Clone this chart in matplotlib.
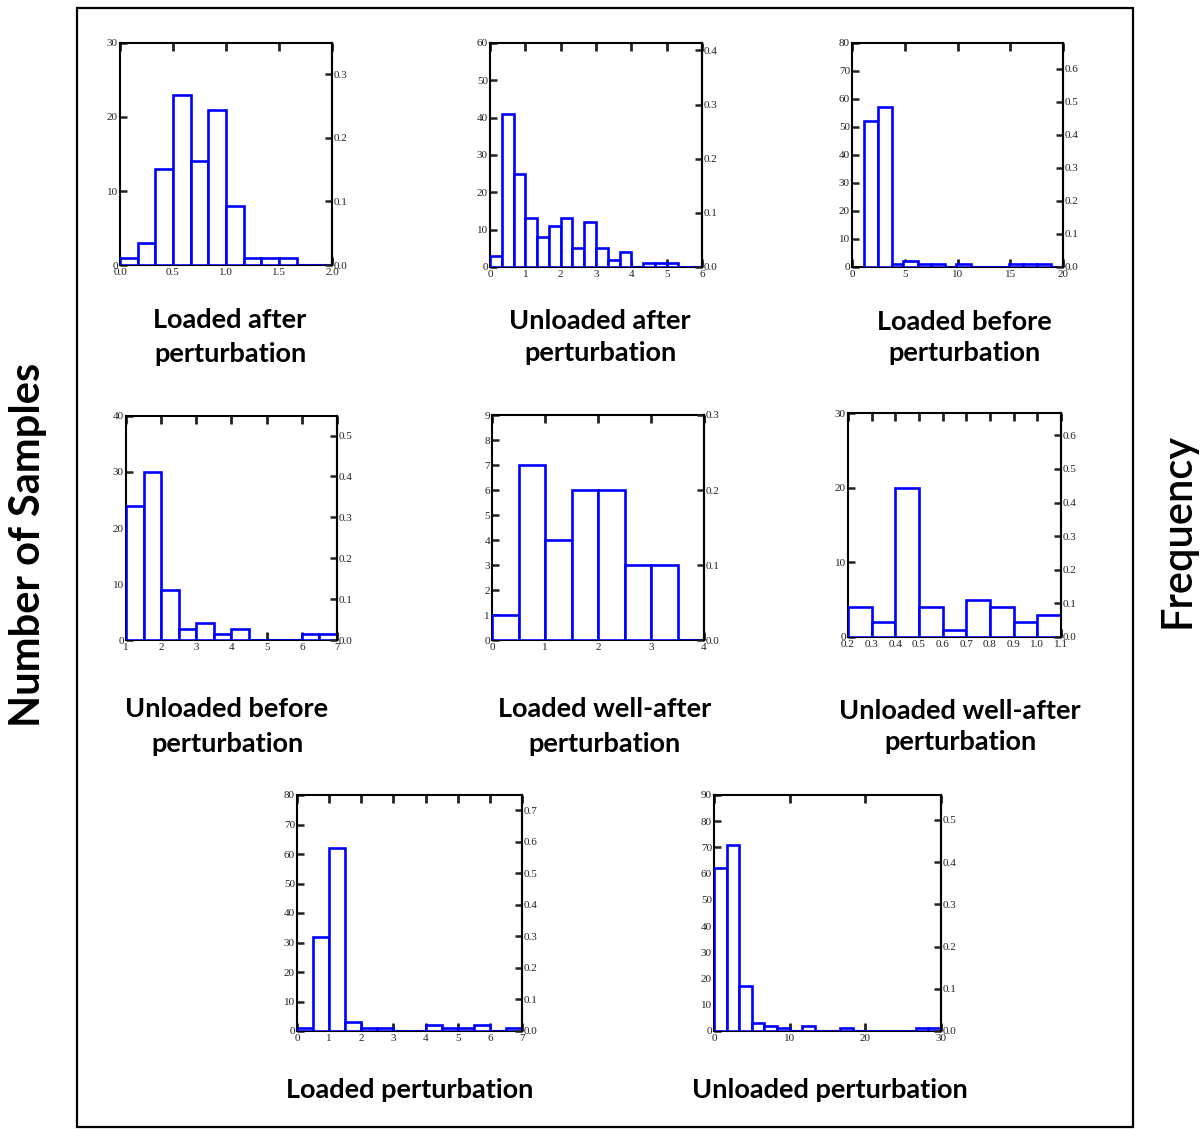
import matplotlib
matplotlib.use("Agg")
import matplotlib.pyplot as plt
import numpy as np
from matplotlib.patches import Rectangle
from matplotlib.ticker import FormatStrFormatter, FixedLocator

W, H = 1204, 1129
DPI = 100

# ---- histogram data: bin edges and sample counts per panel ----
edges_loaded_after = [0, 1/6, 2/6, 3/6, 4/6, 5/6, 1.0, 7/6, 8/6, 9/6, 10/6, 11/6, 2.0]
counts_loaded_after = [1, 3, 13, 23, 14, 21, 8, 1, 1, 1, 0, 0]

edges_unloaded_after = [k / 3 for k in range(19)]
counts_unloaded_after = [3, 41, 25, 13, 8, 11, 13, 5, 12, 5, 2, 4, 0, 1, 1, 1, 0, 0]

edges_loaded_before = [1.15, 2.45, 3.8, 4.85, 6.25, 7.5, 8.8, 9.9, 11.3, 14.9, 16.2, 17.5, 18.9, 20.0]
counts_loaded_before = [52, 57, 1, 2, 1, 1, 0, 1, 0, 1, 1, 1, 0]

edges_unloaded_before = [1 + 0.5 * k for k in range(13)]
counts_unloaded_before = [24, 30, 9, 2, 3, 1, 2, 0, 0, 0, 1, 1]

edges_loaded_well = [0.5 * k for k in range(9)]
counts_loaded_well = [1, 7, 4, 6, 6, 3, 3, 0]

edges_unloaded_well = [0.2 + 0.1 * k for k in range(10)]
counts_unloaded_well = [4, 2, 20, 4, 1, 5, 4, 2, 3]

edges_loaded_pert = [0.5 * k for k in range(15)]
counts_loaded_pert = [1, 32, 62, 3, 1, 1, 0, 0, 2, 1, 1, 2, 0, 1]

edges_unloaded_pert = [30 / 18 * k for k in range(19)]
counts_unloaded_pert = [62, 71, 17, 3, 2, 1, 0, 2, 0, 0, 1, 0, 0, 0, 0, 0, 1, 1]

# ---- axis settings ----
titles = [
    ["Loaded after", "perturbation"],
    ["Unloaded after", "perturbation"],
    ["Loaded before", "perturbation"],
    ["Unloaded before", "perturbation"],
    ["Loaded well-after", "perturbation"],
    ["Unloaded well-after", "perturbation"],
    ["Loaded perturbation"],
    ["Unloaded perturbation"],
]
x_ticks = [
    [0, 0.5, 1.0, 1.5, 2.0],
    [0, 1, 2, 3, 4, 5, 6],
    [0, 5, 10, 15, 20],
    [1, 2, 3, 4, 5, 6, 7],
    [0, 1, 2, 3, 4],
    [0.2, 0.3, 0.4, 0.5, 0.6, 0.7, 0.8, 0.9, 1.0, 1.1],
    [0, 1, 2, 3, 4, 5, 6, 7],
    [0, 10, 20, 30],
]
x_fmt = ["%.1f", "%d", "%d", "%d", "%d", "%.1f", "%d", "%d"]
y_max = [30, 60, 80, 40, 9, 30, 80, 90]
y_step = [10, 10, 10, 10, 1, 10, 10, 10]
freq_max = [0.3, 0.4, 0.6, 0.5, 0.3, 0.6, 0.7, 0.5]

edges_all = [edges_loaded_after, edges_unloaded_after, edges_loaded_before,
             edges_unloaded_before, edges_loaded_well, edges_unloaded_well,
             edges_loaded_pert, edges_unloaded_pert]
counts_all = [counts_loaded_after, counts_unloaded_after, counts_loaded_before,
              counts_unloaded_before, counts_loaded_well, counts_unloaded_well,
              counts_loaded_pert, counts_unloaded_pert]

# panel boxes in pixels: left, top, right, bottom
boxes = [
    (120, 43, 332, 265),
    (490, 43, 702, 267),
    (852, 43, 1063, 267),
    (126, 416, 337, 640),
    (492, 415, 704, 640),
    (848, 413, 1061, 637),
    (297, 795, 522, 1031),
    (714, 795, 941, 1031),
]
# title placement: centre x, baselines
title_pos = [
    (230, [328, 362]),
    (600, [329, 361]),
    (964, [330, 361]),
    (227, [717, 752]),
    (605, [717, 752]),
    (960, [719, 750]),
    (410, [1098]),
    (830, [1098]),
]

BLUE = "#0000ff"
TICK_COLOR = "#222222"
TICK_SIZE = 8
TITLE_FONT = dict(family="Lato", weight="bold", size=19.5)

fig = plt.figure(figsize=(W / DPI, H / DPI), dpi=DPI)
fig.patch.set_facecolor("white")


def fx(px):
    return px / W


def fy(py):
    return 1 - py / H


for i in range(8):
    l, t, r, b = boxes[i]
    ax = fig.add_axes([fx(l), fy(b), fx(r) - fx(l), fy(t) - fy(b)])
    e = np.array(edges_all[i], dtype=float)
    c = np.array(counts_all[i], dtype=float)
    n_total = c.sum()
    ax.bar(e[:-1], c, width=np.diff(e), align="edge", facecolor="white",
           edgecolor=BLUE, linewidth=1.9, zorder=3)
    ax.set_xlim(x_ticks[i][0], x_ticks[i][-1])
    ax.set_ylim(0, y_max[i])
    ax.xaxis.set_major_locator(FixedLocator(x_ticks[i]))
    ax.xaxis.set_major_formatter(FormatStrFormatter(x_fmt[i]))
    ax.yaxis.set_major_locator(FixedLocator(np.arange(0, y_max[i] + 0.01, y_step[i])))
    for sp in ax.spines.values():
        sp.set_linewidth(1.5)
        sp.set_color("black")

    # frequency axis: same bars expressed as a fraction of all samples
    axr = ax.twinx()
    axr.set_ylim(0, y_max[i] / n_total)
    axr.yaxis.set_major_locator(FixedLocator(np.arange(0, freq_max[i] + 1e-6, 0.1)))
    axr.yaxis.set_major_formatter(FormatStrFormatter("%.1f"))
    axr.tick_params(axis="y", direction="in", length=5, width=1.8,
                    labelsize=TICK_SIZE, pad=1.5, colors=TICK_COLOR)
    for lab in axr.get_yticklabels():
        lab.set_family("Liberation Serif")
    for name, sp in axr.spines.items():
        sp.set_visible(name == "right")
        sp.set_linewidth(1.5)

    ax.xaxis.set_ticks_position("both")
    ax.tick_params(axis="x", direction="in", length=6, width=2.0,
                   labelsize=TICK_SIZE, pad=2.5, colors=TICK_COLOR)
    ax.tick_params(axis="y", direction="in", length=5, width=1.8,
                   left=True, right=False, labelsize=TICK_SIZE, pad=1.5,
                   colors=TICK_COLOR)
    for lab in ax.get_xticklabels() + ax.get_yticklabels():
        lab.set_family("Liberation Serif")

    cx, baselines = title_pos[i]
    for line, by in zip(titles[i], baselines):
        fig.text(fx(cx), fy(by), line, ha="center", va="baseline",
                 color="black", **TITLE_FONT)

# outer frame around all panels
frame = Rectangle((fx(77), fy(1127)), fx(1133) - fx(77), fy(8) - fy(1127),
                  transform=fig.transFigure, fill=False, edgecolor="black",
                  linewidth=1.6)
fig.patches.append(frame)

fig.text(fx(28), fy(545), "Number of Samples", rotation=90, ha="center",
         va="center", family="Lato", weight="bold", size=30, color="black")
fig.text(fx(1178), fy(530), "Frequency", rotation=90, ha="center",
         va="center", family="Lato", weight="semibold", size=30, color="black")

fig.savefig("out.png", dpi=DPI, facecolor="white")
